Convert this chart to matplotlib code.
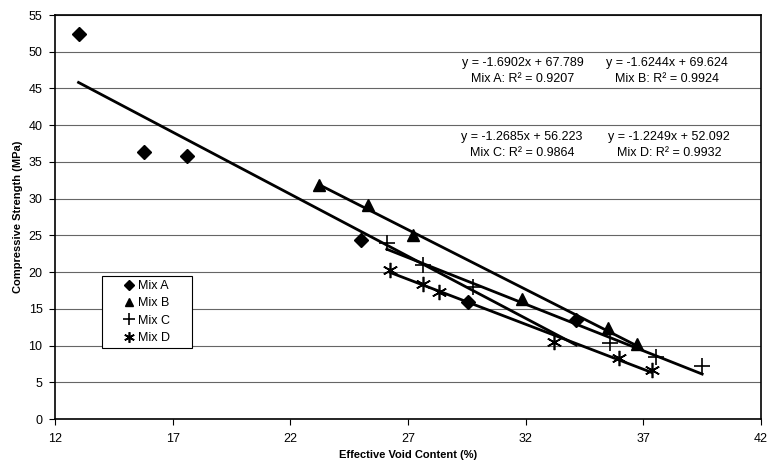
import numpy as np
import matplotlib.pyplot as plt
from matplotlib.patches import Rectangle

plt.rcParams['font.family'] = ['Liberation Sans', 'DejaVu Sans']

# Effective void content (%) and compressive strength (MPa) for each mix
mix_a_x = [13.0, 15.8, 17.6, 25.0, 29.55, 34.15]
mix_a_y = [52.4, 36.4, 35.8, 24.4, 15.9, 13.5]
mix_b_x = [23.2, 25.3, 27.2, 31.85, 35.5, 36.75]
mix_b_y = [31.9, 29.1, 25.0, 16.4, 12.4, 10.2]
mix_c_x = [26.1, 27.65, 29.75, 35.6, 37.55, 39.5]
mix_c_y = [24.0, 21.0, 18.0, 10.3, 8.4, 7.2]
mix_d_x = [26.25, 27.65, 28.3, 33.2, 35.95, 37.35]
mix_d_y = [20.3, 18.4, 17.3, 10.5, 8.3, 6.7]

# linear fits: slope, intercept, R^2
fit_a = (-1.6902, 67.789, 0.9207)
fit_b = (-1.6244, 69.624, 0.9924)
fit_c = (-1.2685, 56.223, 0.9864)
fit_d = (-1.2249, 52.092, 0.9932)

series = [
    ('Mix A', mix_a_x, mix_a_y, fit_a, dict(marker='D', ms=7)),
    ('Mix B', mix_b_x, mix_b_y, fit_b, dict(marker='^', ms=9)),
    ('Mix C', mix_c_x, mix_c_y, fit_c, dict(marker='+', ms=12, mew=1.2)),
    ('Mix D', mix_d_x, mix_d_y, fit_d, dict(marker=(6, 2, 0), ms=11, mew=1.2)),
]

fig = plt.figure(figsize=(7.69, 4.68), dpi=100)
ax = fig.add_axes([55 / 769, 49 / 468, 706 / 769, 404 / 468])

for name, xs, ys, (m, b, r2), style in series:
    ax.plot(xs, ys, ls='none', color='black', label=name, **style)
    xx = np.array([min(xs), max(xs)])
    ax.plot(xx, m * xx + b, color='black', lw=2.0)

ax.set_xlim(12, 42)
ax.set_ylim(0, 55)
ax.set_xticks(np.arange(12, 43, 5))
ax.set_yticks(np.arange(0, 56, 5))
ax.yaxis.grid(True, color='#666666', lw=0.8)
ax.set_axisbelow(True)
ax.tick_params(labelsize=9, length=4, direction='out', color='black')
ax.tick_params(axis='x', pad=6)
ax.tick_params(axis='y', pad=5)
for s in ax.spines.values():
    s.set_linewidth(1.2)

ax.set_xlabel('Effective Void Content (%)', fontsize=8, fontweight='bold', labelpad=4)
ax.set_ylabel('Compressive Strength (MPa)', fontsize=8, fontweight='bold', labelpad=4)

# regression equations
labels = [
    (fit_a, 'Mix A', 523, 57),
    (fit_b, 'Mix B', 667, 57),
    (fit_c, 'Mix C', 522, 131),
    (fit_d, 'Mix D', 669, 131),
]
for (m, b, r2), name, px, py in labels:
    txt = f'y = {m:.4f}x + {b:.3f}\n{name}: R\u00b2 = {r2:.4f}'
    fig.text(px / 769, 1 - py / 468, txt, ha='center', va='top',
             fontsize=9, linespacing=1.45)

# legend box with the entries centred inside it
ax.add_patch(Rectangle((102 / 769, 1 - 348 / 468), 90 / 769, 72 / 468,
                       transform=fig.transFigure, facecolor='white',
                       edgecolor='black', lw=0.8, zorder=4))
leg = ax.legend(loc='center', bbox_to_anchor=(147 / 769, 1 - 312 / 468),
                bbox_transform=fig.transFigure, fontsize=9, frameon=False,
                handlelength=0.9, handletextpad=0.3, borderpad=0,
                labelspacing=0.42, markerscale=0.7)
leg.set_zorder(5)

fig.savefig('out.png', dpi=100)
